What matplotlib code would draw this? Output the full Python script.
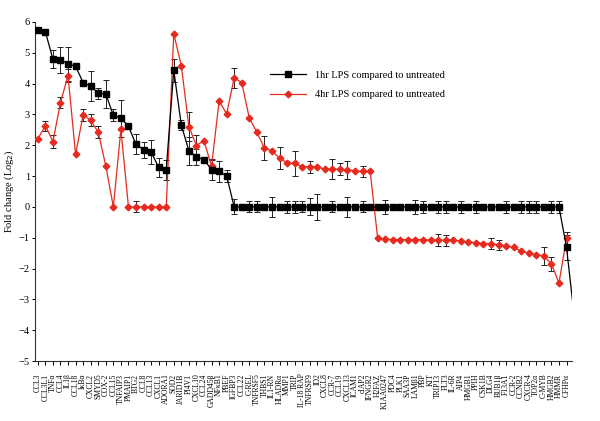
import numpy as np
import matplotlib
matplotlib.use("Agg")
from matplotlib import pyplot as plt

plt.rcParams['font.family'] = ['Liberation Serif', 'DejaVu Serif']

genes = ['CCL3', 'CCL3L1', 'TNFα', 'CCL4', 'IL1β', 'CCL18', 'IκBα', 'CXCL2', 'SMYD5', 'COX-2',
         'CCL15', 'TNFAIP3', 'PMAIP1', 'BTG2', 'CCL8', 'CCL13', 'CXCL1', 'ADORA1', 'SOD2', 'JARID1B',
         'PI4V1', 'CXCL10', 'CCL24', 'GADD45β', 'NFκB1', 'PBEF', 'IGFBP3', 'CCL22', 'C-REL', 'TNFRSF5',
         'THBS1', 'IL1-RN', 'HLADRα', 'MMP1', 'TRIP', 'IL-18 RAP', 'TNFRSF9', 'ID2', 'CXCL8', 'CCR-7',
         'CCL19', 'CXCL13', 'ICAM1', 'cIAP2', 'IFNGR2', 'H2FAZ', 'K1AA0247', 'PDC4', 'PLK1', 'SAA3P',
         'LAMβ1', 'PBP', 'KIT', 'TRIP13', 'FLT3', 'IL-6R', 'AIP4', 'HMGB1', 'PPIH', 'CSK1B',
         'DLG4', 'BUB1β', 'F13A1', 'CCR-2', 'CCNB2', 'CXCR-4', 'TOP2α', 'C-MYB', 'HMGB2', 'HMMR',
         'CFHPα']

# 1hr LPS (last value lies past the axis edge, only the line into it shows)
hr1 = [5.74, 5.68, 4.79, 4.77, 4.64, 4.56, 4.03, 3.92, 3.68, 3.66,
       2.97, 2.88, 2.61, 2.03, 1.85, 1.78, 1.28, 1.20, 4.43, 2.65,
       1.82, 1.62, 1.53, 1.21, 1.15, 1.00] + [0.0] * 44 + [-1.31, -3.5]
hr1_err = [0, 0, 0.30, 0.42, 0.55, 0, 0, 0.49, 0.18, 0.44,
           0.19, 0.60, 0, 0.33, 0.27, 0.39, 0.32, 0.32, 0.37, 0.17,
           0.45, 0.25, 0, 0.33, 0.33, 0.18, 0.24, 0, 0.18, 0.18,
           0, 0.33, 0, 0.20, 0.20, 0.18, 0.28, 0.42, 0, 0.18,
           0, 0.33, 0, 0.18, 0, 0, 0.22, 0, 0, 0,
           0.22, 0.20, 0, 0.20, 0.20, 0, 0.20, 0, 0.20, 0,
           0, 0, 0.20, 0, 0.20, 0.20, 0.20, 0, 0.20, 0.20,
           0.40]

hr4 = [2.20, 2.63, 2.12, 3.38, 4.26, 1.70, 2.99, 2.81, 2.42, 1.33,
       0.0, 2.51, 0.0, 0.0, 0.0, 0.0, 0.0, 0.0, 5.61, 4.58,
       2.60, 1.99, 2.15, 1.31, 3.43, 3.02, 4.19, 4.03, 2.88, 2.42,
       1.91, 1.82, 1.58, 1.43, 1.41, 1.30, 1.30, 1.30, 1.22, 1.22,
       1.22, 1.20, 1.17, 1.15, 1.15, -1.02, -1.04, -1.06, -1.06, -1.06,
       -1.06, -1.06, -1.08, -1.08, -1.08, -1.08, -1.11, -1.14, -1.16, -1.19,
       -1.19, -1.23, -1.27, -1.31, -1.44, -1.51, -1.55, -1.59, -1.85, -2.47,
       -1.02]
hr4_err = [0, 0.17, 0.20, 0.18, 0.20, 0, 0.20, 0.20, 0.20, 0,
           0, 0, 0, 0.18, 0, 0, 0, 0, 0, 0,
           0.47, 0.35, 0, 0.20, 0, 0, 0.32, 0, 0, 0,
           0.38, 0, 0.35, 0, 0.40, 0, 0.20, 0, 0, 0.32,
           0.20, 0.28, 0, 0.18, 0, 0, 0, 0, 0, 0,
           0, 0, 0, 0.20, 0.18, 0, 0, 0, 0, 0,
           0.18, 0.16, 0, 0, 0, 0, 0, 0.30, 0.22, 0,
           0.22]

red = '#e52b1f'
n = len(genes)

fig = plt.figure(figsize=(6, 4.21), dpi=100)
ax = fig.add_axes([0.058, 0.1425, 0.895, 0.8055])

x1 = np.arange(len(hr1))
x4 = np.arange(len(hr4))

ax.errorbar(x4, hr4, yerr=hr4_err, fmt='none', ecolor='#222222', elinewidth=0.7,
            capsize=2.5, capthick=0.7, zorder=2)
ax.errorbar(x1[:n], hr1[:n], yerr=hr1_err, fmt='none', ecolor='#222222', elinewidth=0.7,
            capsize=2.5, capthick=0.7, zorder=2)
ax.plot(x1, hr1, color='black', lw=0.9, marker='s', ms=4.5, mfc='black', mec='black',
        markevery=list(range(n)),
        label='1hr LPS compared to untreated', zorder=4)
ax.plot(x4, hr4, color=red, lw=0.9, marker='D', ms=3.4, mfc=red, mec=red,
        label='4hr LPS compared to untreated', zorder=3)

ax.set_xlim(-0.4, 70.7)
ax.set_ylim(-5, 6)
ax.set_yticks(range(-5, 7))
ax.set_xticks(np.arange(n))
ax.set_xticklabels(genes, rotation=90, fontsize=5.5)
ax.tick_params(axis='y', labelsize=7.5, length=2, width=0.7, direction='out', pad=1.5)
ax.tick_params(axis='x', length=3, width=0.7, direction='out', pad=6)
ax.set_ylabel('Fold change (Log$_2$)', fontsize=7.5, labelpad=2)
for sp in ['top', 'right']:
    ax.spines[sp].set_visible(False)
for sp in ['left', 'bottom']:
    ax.spines[sp].set_linewidth(0.8)
    ax.spines[sp].set_color('#333333')

leg = ax.legend(loc='upper left', bbox_to_anchor=(0.42, 0.885), frameon=False,
                fontsize=7.5, handlelength=3.5, labelspacing=1.0)

fig.savefig('out.png', dpi=100)
